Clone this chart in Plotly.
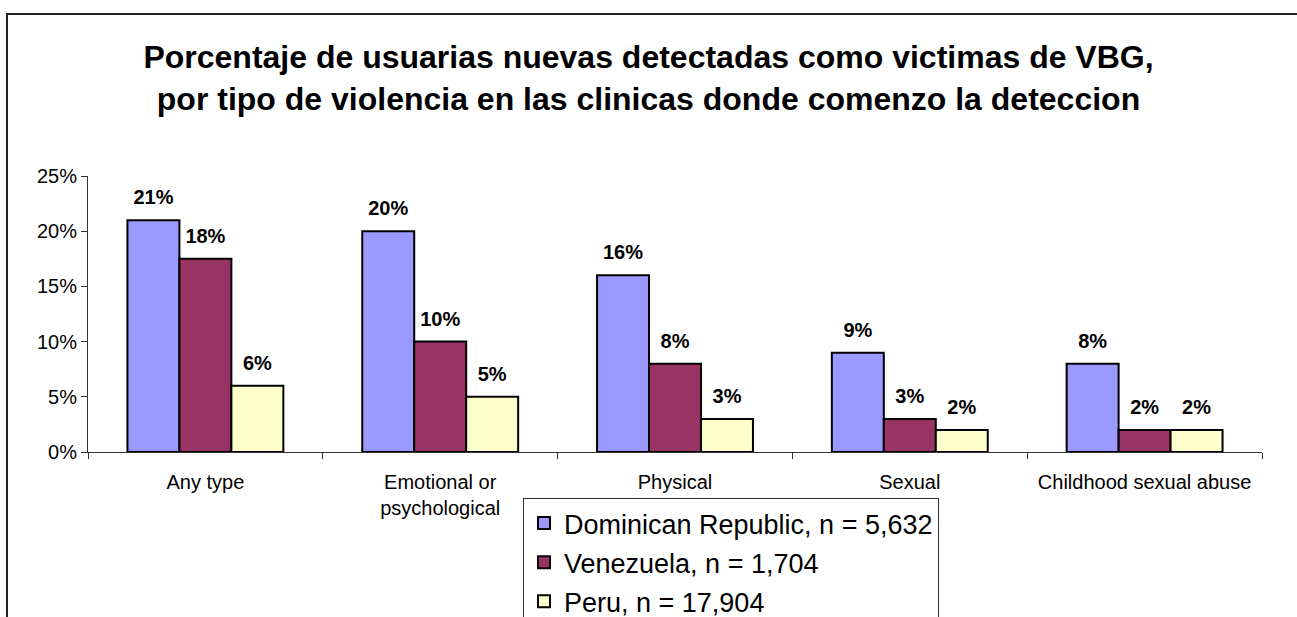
import plotly.graph_objects as go

categories = ["Any type", "Emotional or<br>psychological", "Physical", "Sexual", "Childhood sexual abuse"]
dominican = [21, 20, 16, 9, 8]
venezuela = [17.5, 10, 8, 3, 2]
peru = [6, 5, 3, 2, 2]
series_names = ["Dominican Republic, n = 5,632", "Venezuela, n = 1,704", "Peru, n = 17,904"]
series_colors = ["#9999FF", "#993366", "#FFFFCC"]
y_ticks = [0, 5, 10, 15, 20, 25]
y_ticklabels = [f"{v}%" for v in y_ticks]

title_line1 = "Porcentaje de usuarias nuevas detectadas como victimas de VBG,"
title_line2 = "por tipo de violencia en las clinicas donde comenzo la deteccion"

FONT = "Arial, 'Liberation Sans', sans-serif"

def fmt(v):
    return f"{int(v + 0.5)}%"

fig = go.Figure()
all_series = [dominican, venezuela, peru]
for i, (vals, name, col) in enumerate(zip(all_series, series_names, series_colors)):
    fig.add_trace(go.Bar(
        x=categories, y=vals, name=name,
        marker=dict(color=col, line=dict(color="black", width=2)),
        offsetgroup=str(i), legendgroup=str(i),
        hoverinfo="skip",
    ))
for i, vals in enumerate(all_series):
    fig.add_trace(go.Scatter(
        x=categories, y=vals, mode="markers+text",
        text=[fmt(v) for v in vals], textposition="top center",
        textfont=dict(family=FONT, size=20, color="black", weight="bold"),
        marker=dict(size=16, opacity=0),
        offsetgroup=str(i), showlegend=False, hoverinfo="skip",
    ))

L, R, T, B = 88, 35, 176, 165
W, H = 1297, 617
pw = W - L - R
ph = H - T - B

def px_to_paper_x(px):
    return (px - L) / pw

def px_to_paper_y(py):
    return (H - B - py) / ph

fig.update_layout(
    width=W, height=H,
    margin=dict(l=L, r=R, t=T, b=B, autoexpand=False),
    paper_bgcolor="white", plot_bgcolor="white",
    barmode="group", bargap=0.336, bargroupgap=0,
    scattermode="group", scattergap=0.336,
    font=dict(family=FONT, color="black"),
    title=dict(
        text="<b>" + title_line1 + "<br>" + title_line2 + "</b>",
        font=dict(family=FONT, size=32, color="black"),
        x=0.5, xref="container", xanchor="center",
        y=1 - 68 / H, yref="container", yanchor="middle",
    ),
    showlegend=True,
    legend=dict(
        x=px_to_paper_x(523), y=px_to_paper_y(498),
        xanchor="left", yanchor="top",
        bordercolor="#333333", borderwidth=1, bgcolor="white",
        font=dict(family=FONT, size=27, color="black"),
        tracegroupgap=1,
    ),
    xaxis=dict(
        showline=True, linecolor="#333333", linewidth=1,
        ticks="outside", tickson="boundaries", ticklen=6, tickcolor="#333333",
        tickfont=dict(family=FONT, size=20, color="black"),
        ticklabelstandoff=12,
        showgrid=False, zeroline=False,
    ),
    yaxis=dict(
        range=[0, 25], tickmode="array", tickvals=y_ticks, ticktext=y_ticklabels,
        showline=True, linecolor="#333333", linewidth=1,
        ticks="outside", ticklen=6, tickcolor="#333333",
        tickfont=dict(family=FONT, size=20, color="black"),
        showgrid=False, zeroline=False,
    ),
    shapes=[dict(
        type="rect", xref="paper", yref="paper",
        x0=px_to_paper_x(7), x1=px_to_paper_x(1310),
        y0=px_to_paper_y(640), y1=px_to_paper_y(14),
        line=dict(color="#222222", width=2), fillcolor="rgba(0,0,0,0)",
        layer="below",
    )],
)

fig.write_html(
    "out.html",
    config={"displayModeBar": False},
    post_script="document.body.style.margin='0';document.body.style.overflow='hidden';",
)
